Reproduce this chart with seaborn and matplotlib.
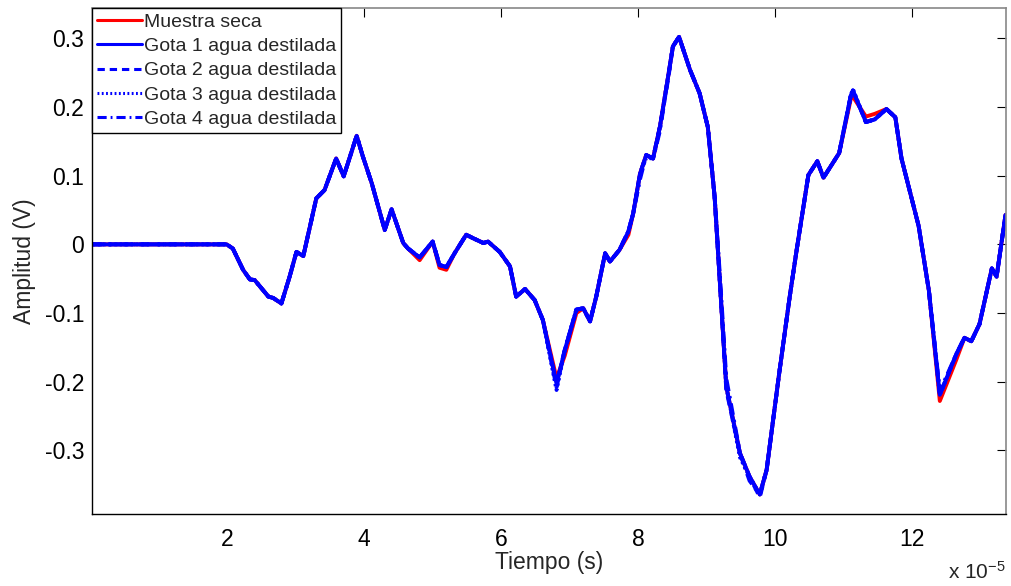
import matplotlib
matplotlib.use("Agg")
import matplotlib.pyplot as plt
import seaborn as sns

# Time axis in units of 1e-5 s
tiempo = [0.03, 1.99, 2.08, 2.23, 2.33, 2.40, 2.60, 2.67, 2.79, 2.91,
          3.01, 3.11, 3.30, 3.42, 3.59, 3.70, 3.89, 3.98, 4.11, 4.30,
          4.40, 4.57, 4.64, 4.81, 5.00, 5.10, 5.20, 5.32, 5.49, 5.59,
          5.74, 5.81, 5.98, 6.13, 6.22, 6.35, 6.49, 6.61, 6.81, 6.93,
          7.10, 7.20, 7.30, 7.39, 7.52, 7.59, 7.73, 7.86, 7.93, 8.03,
          8.12, 8.22, 8.32, 8.44, 8.51, 8.60, 8.76, 8.90, 9.02, 9.12,
          9.20, 9.29, 9.49, 9.63, 9.78, 9.88, 10.06, 10.22, 10.32, 10.49,
          10.62, 10.71, 10.94, 11.11, 11.14, 11.33, 11.46, 11.63, 11.76, 11.85,
          12.10, 12.25, 12.41, 12.65, 12.77, 12.87, 12.99, 13.17, 13.24, 13.37]

muestra_seca = [0.000, 0.000, -0.006, -0.037, -0.051, -0.052, -0.076, -0.078, -0.086, -0.047,
                -0.011, -0.017, 0.067, 0.079, 0.125, 0.099, 0.158, 0.128, 0.089, 0.021,
                0.051, 0.002, -0.006, -0.023, 0.004, -0.034, -0.037, -0.013, 0.014, 0.009,
                0.002, 0.004, -0.011, -0.032, -0.076, -0.065, -0.081, -0.110, -0.195, -0.162,
                -0.100, -0.093, -0.112, -0.076, -0.013, -0.025, -0.008, 0.014, 0.045, 0.103,
                0.130, 0.125, 0.171, 0.244, 0.288, 0.302, 0.254, 0.220, 0.171, 0.069,
                -0.061, -0.207, -0.304, -0.338, -0.364, -0.328, -0.190, -0.074, -0.007, 0.101,
                0.121, 0.097, 0.133, 0.212, 0.215, 0.186, 0.190, 0.197, 0.185, 0.125,
                0.027, -0.067, -0.228, -0.168, -0.136, -0.141, -0.116, -0.035, -0.047, 0.043]

gota_1 = [0.000, 0.000, -0.006, -0.037, -0.051, -0.052, -0.076, -0.078, -0.086, -0.047,
          -0.011, -0.017, 0.067, 0.079, 0.125, 0.099, 0.158, 0.128, 0.089, 0.021,
          0.051, 0.002, -0.006, -0.019, 0.004, -0.030, -0.033, -0.013, 0.014, 0.009,
          0.002, 0.004, -0.011, -0.032, -0.076, -0.065, -0.081, -0.110, -0.203, -0.154,
          -0.095, -0.093, -0.112, -0.076, -0.013, -0.025, -0.008, 0.019, 0.045, 0.103,
          0.130, 0.125, 0.171, 0.244, 0.288, 0.302, 0.254, 0.220, 0.171, 0.069,
          -0.061, -0.207, -0.304, -0.338, -0.364, -0.328, -0.190, -0.074, -0.007, 0.101,
          0.121, 0.097, 0.133, 0.217, 0.224, 0.178, 0.182, 0.197, 0.185, 0.125,
          0.027, -0.067, -0.219, -0.160, -0.136, -0.141, -0.116, -0.035, -0.047, 0.043]

gota_2 = [0.000, 0.000, -0.006, -0.037, -0.051, -0.052, -0.076, -0.078, -0.086, -0.047,
          -0.011, -0.017, 0.067, 0.079, 0.125, 0.099, 0.158, 0.128, 0.089, 0.021,
          0.051, 0.002, -0.006, -0.019, 0.004, -0.030, -0.033, -0.013, 0.014, 0.009,
          0.002, 0.004, -0.011, -0.032, -0.076, -0.065, -0.081, -0.110, -0.208, -0.154,
          -0.095, -0.093, -0.112, -0.076, -0.013, -0.025, -0.008, 0.019, 0.045, 0.103,
          0.130, 0.125, 0.171, 0.240, 0.288, 0.302, 0.254, 0.220, 0.171, 0.069,
          -0.061, -0.212, -0.304, -0.338, -0.368, -0.328, -0.190, -0.074, -0.007, 0.101,
          0.121, 0.097, 0.133, 0.217, 0.224, 0.178, 0.182, 0.197, 0.185, 0.125,
          0.027, -0.067, -0.219, -0.160, -0.136, -0.141, -0.116, -0.035, -0.047, 0.043]

gota_3 = [0.000, 0.000, -0.006, -0.037, -0.051, -0.052, -0.076, -0.078, -0.086, -0.047,
          -0.011, -0.017, 0.067, 0.079, 0.125, 0.099, 0.158, 0.128, 0.089, 0.021,
          0.051, 0.002, -0.006, -0.019, 0.004, -0.030, -0.033, -0.013, 0.014, 0.009,
          0.002, 0.004, -0.011, -0.032, -0.076, -0.065, -0.081, -0.110, -0.212, -0.154,
          -0.095, -0.093, -0.112, -0.076, -0.013, -0.025, -0.008, 0.019, 0.045, 0.103,
          0.126, 0.125, 0.171, 0.244, 0.288, 0.302, 0.254, 0.220, 0.171, 0.069,
          -0.061, -0.207, -0.310, -0.338, -0.364, -0.328, -0.190, -0.074, -0.007, 0.101,
          0.121, 0.097, 0.133, 0.217, 0.226, 0.178, 0.182, 0.197, 0.185, 0.125,
          0.027, -0.067, -0.219, -0.160, -0.136, -0.141, -0.116, -0.035, -0.047, 0.043]

gota_4 = [0.000, 0.000, -0.006, -0.037, -0.051, -0.052, -0.076, -0.078, -0.086, -0.047,
          -0.011, -0.017, 0.067, 0.079, 0.125, 0.099, 0.158, 0.128, 0.089, 0.021,
          0.051, 0.002, -0.006, -0.019, 0.004, -0.030, -0.033, -0.013, 0.014, 0.009,
          0.002, 0.004, -0.011, -0.032, -0.076, -0.065, -0.081, -0.110, -0.203, -0.154,
          -0.095, -0.093, -0.112, -0.076, -0.013, -0.025, -0.008, 0.019, 0.045, 0.095,
          0.130, 0.125, 0.165, 0.244, 0.288, 0.302, 0.254, 0.220, 0.171, 0.069,
          -0.050, -0.195, -0.304, -0.344, -0.364, -0.328, -0.190, -0.074, -0.007, 0.101,
          0.121, 0.097, 0.133, 0.217, 0.224, 0.178, 0.182, 0.197, 0.185, 0.125,
          0.027, -0.067, -0.214, -0.160, -0.136, -0.141, -0.116, -0.035, -0.047, 0.043]

series_names = ["Muestra seca", "Gota 1 agua destilada", "Gota 2 agua destilada",
                "Gota 3 agua destilada", "Gota 4 agua destilada"]
x_ticks = [2, 4, 6, 8, 10, 12]
y_ticks = [-0.3, -0.2, -0.1, 0.0, 0.1, 0.2, 0.3]
y_tick_labels = ["-0.3", "-0.2", "-0.1", "0", "0.1", "0.2", "0.3"]

sns.set_style("white")
plt.rcParams["font.family"] = ["Liberation Sans", "DejaVu Sans"]
plt.rcParams["axes.unicode_minus"] = False
plt.rcParams["mathtext.fontset"] = "custom"
plt.rcParams["mathtext.rm"] = "Liberation Sans"
plt.rcParams["mathtext.it"] = "Liberation Sans"

fig = plt.figure(figsize=(10.12, 5.86), dpi=100)
ax = fig.add_axes([0.0914, 0.1234, 0.9022, 0.8629])

styles = [
    ("red", "-"),
    ("blue", "-"),
    ("blue", (0, (2.4, 1.6))),
    ("blue", (0, (0.6, 0.8))),
    ("blue", (0, (3.0, 1.3, 0.6, 1.3))),
]
values = [muestra_seca, gota_1, gota_2, gota_3, gota_4]

for name, vals, (color, ls) in zip(series_names, values, styles):
    sns.lineplot(x=tiempo, y=vals, ax=ax, color=color, linestyle=ls,
                 linewidth=2.8, label=name, sort=False, estimator=None)

ax.set_xlim(0.03, 13.37)
ax.set_ylim(-0.392, 0.344)
ax.set_xticks(x_ticks)
ax.set_xticklabels([str(v) for v in x_ticks])
ax.set_yticks(y_ticks)
ax.set_yticklabels(y_tick_labels)

ax.tick_params(direction="in", length=6.5, width=0.8, top=True, right=True,
               labelsize=16.5, colors="black")
ax.tick_params(axis="x", pad=10)
ax.tick_params(axis="y", pad=6)
for side in ["left", "bottom"]:
    ax.spines[side].set_color("black")
    ax.spines[side].set_linewidth(1.0)
for side in ["top", "right"]:
    ax.spines[side].set_color("#888888")
    ax.spines[side].set_linewidth(1.2)

ax.set_xlabel("Tiempo (s)", fontsize=16.5, labelpad=0)
ax.set_ylabel("Amplitud (V)", fontsize=16.5, labelpad=6)
ax.text(1.0, -0.115, r"x 10$^{-5}$", transform=ax.transAxes, ha="right",
        va="center", fontsize=15)

leg = ax.legend(loc="upper left", borderaxespad=0, frameon=True, fancybox=False,
                edgecolor="black", framealpha=1, fontsize=14, handlelength=2.3,
                handletextpad=0.1, borderpad=0.25, labelspacing=0.35)
leg.get_frame().set_linewidth(1.0)
for line in leg.get_lines():
    line.set_linewidth(2.2)

fig.savefig("out.png", dpi=100)
